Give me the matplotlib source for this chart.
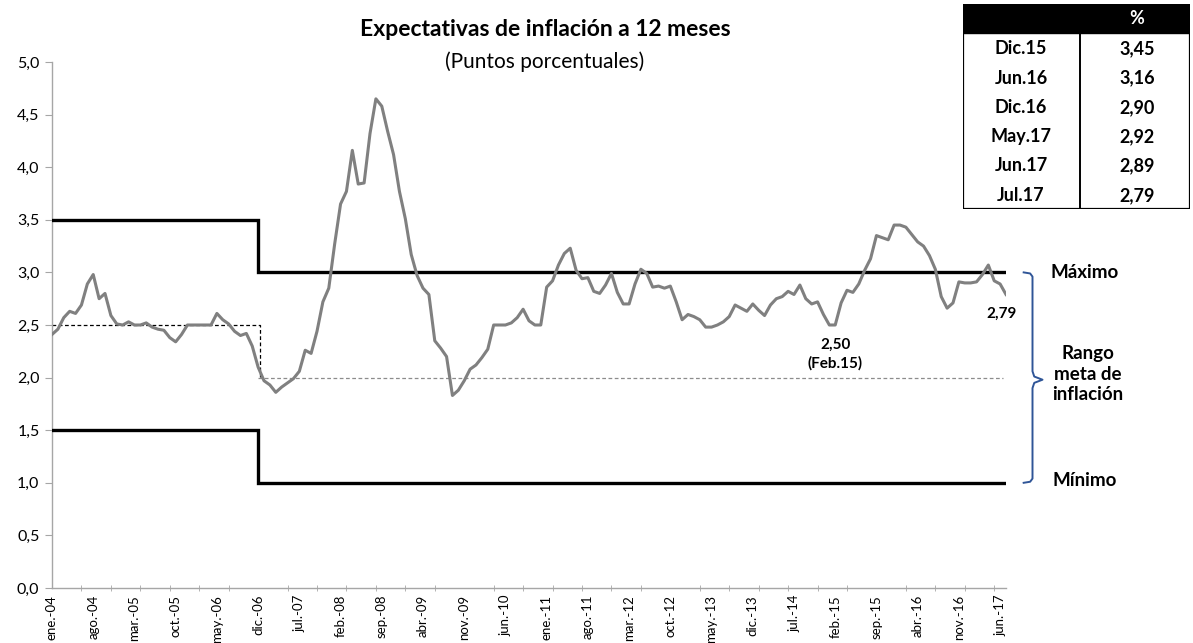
import matplotlib.pyplot as plt
from matplotlib.ticker import FuncFormatter, FixedLocator
from matplotlib.patches import Rectangle
import numpy as np

plt.rcParams['font.family'] = ['Lato', 'DejaVu Sans']

# --- datos: expectativas mensuales, ene.-04 a jul.-17 ---
expectativas = [
    2.41, 2.46, 2.57, 2.63, 2.61, 2.69, 2.89, 2.98, 2.75, 2.80, 2.59, 2.51,  # 2004
    2.50, 2.53, 2.50, 2.50, 2.52, 2.48, 2.46, 2.45, 2.38, 2.34, 2.41, 2.50,  # 2005
    2.50, 2.50, 2.50, 2.50, 2.61, 2.55, 2.51, 2.44, 2.40, 2.42, 2.30, 2.10,  # 2006
    1.97, 1.93, 1.86, 1.91, 1.95, 1.99, 2.06, 2.26, 2.23, 2.44, 2.72, 2.85,  # 2007
    3.27, 3.65, 3.77, 4.16, 3.84, 3.85, 4.32, 4.65, 4.58, 4.34, 4.12, 3.77,  # 2008
    3.51, 3.17, 2.97, 2.85, 2.79, 2.35, 2.28, 2.20, 1.83, 1.88, 1.97, 2.08,  # 2009
    2.12, 2.19, 2.27, 2.50, 2.50, 2.50, 2.52, 2.57, 2.65, 2.54, 2.50, 2.50,  # 2010
    2.86, 2.92, 3.07, 3.18, 3.23, 3.02, 2.94, 2.95, 2.82, 2.80, 2.88, 2.99,  # 2011
    2.81, 2.70, 2.70, 2.89, 3.03, 2.99, 2.86, 2.87, 2.85, 2.87, 2.72, 2.55,  # 2012
    2.60, 2.58, 2.55, 2.48, 2.48, 2.50, 2.53, 2.58, 2.69, 2.66, 2.63, 2.70,  # 2013
    2.64, 2.59, 2.69, 2.75, 2.77, 2.82, 2.79, 2.88, 2.75, 2.70, 2.72, 2.60,  # 2014
    2.50, 2.50, 2.71, 2.83, 2.81, 2.89, 3.02, 3.13, 3.35, 3.33, 3.31, 3.45,  # 2015
    3.45, 3.43, 3.36, 3.29, 3.25, 3.16, 3.03, 2.77, 2.66, 2.71, 2.91, 2.90,  # 2016
    2.90, 2.91, 2.98, 3.07, 2.92, 2.89, 2.79,                                # 2017
]

# rango meta: cambio en dic.-06 (mes 35)
mes_cambio = 35
maximo_antes, maximo_despues = 3.5, 3.0
minimo_antes, minimo_despues = 1.5, 1.0
meta_antes, meta_despues = 2.5, 2.0

etiquetas_x = ['ene.-04', 'ago.-04', 'mar.-05', 'oct.-05', 'may.-06', 'dic.-06',
               'jul.-07', 'feb.-08', 'sep.-08', 'abr.-09', 'nov.-09', 'jun.-10',
               'ene.-11', 'ago.-11', 'mar.-12', 'oct.-12', 'may.-13', 'dic.-13',
               'jul.-14', 'feb.-15', 'sep.-15', 'abr.-16', 'nov.-16', 'jun.-17']

tabla_fechas = ['Dic.15', 'Jun.16', 'Dic.16', 'May.17', 'Jun.17', 'Jul.17']
tabla_valores = ['3,45', '3,16', '2,90', '2,92', '2,89', '2,79']

# --- figura ---
W, H = 1193, 643
fig = plt.figure(figsize=(W / 100, H / 100), dpi=100)
ax = fig.add_axes([52 / W, 1 - 588 / H, (1006 - 52) / W, (588 - 62) / H])

meses = np.arange(len(expectativas))
ultimo = meses[-1]

# lineas del rango meta
ax.plot([0, mes_cambio, mes_cambio, ultimo],
        [maximo_antes, maximo_antes, maximo_despues, maximo_despues],
        color='black', lw=2.4, solid_joinstyle='miter', zorder=3)
ax.plot([0, mes_cambio, mes_cambio, ultimo],
        [minimo_antes, minimo_antes, minimo_despues, minimo_despues],
        color='black', lw=2.4, solid_joinstyle='miter', zorder=3)
ax.plot([0, mes_cambio + 0.4, mes_cambio + 0.4], [meta_antes, meta_antes, meta_despues],
        color='black', lw=0.9, ls=(0, (3, 2)), zorder=2)
ax.plot([mes_cambio, ultimo - 0.5], [meta_despues, meta_despues],
        color='#8c8c8c', lw=0.9, ls=(0, (3, 2)), zorder=2)

# serie
ax.plot(meses, expectativas, color='#808080', lw=2.2, zorder=4)

ax.set_xlim(0, ultimo)
ax.set_ylim(0, 5)

for s in ['top', 'right']:
    ax.spines[s].set_visible(False)
for s in ['left', 'bottom']:
    ax.spines[s].set_color('#a6a6a6')
    ax.spines[s].set_linewidth(1.0)

ax.yaxis.set_major_locator(FixedLocator(np.arange(0, 5.01, 0.5)))
ax.yaxis.set_major_formatter(FuncFormatter(lambda v, _: f'{v:.1f}'.replace('.', ',')))
ax.tick_params(axis='y', length=5, color='#a6a6a6', labelsize=11.5, pad=4)

ax.set_xticks(np.arange(0, len(expectativas), 7))
ax.set_xticklabels(etiquetas_x, rotation=90, fontsize=9.5, va='top', ha='center')
ax.set_xticks(np.arange(0, len(expectativas), 5), minor=True)
ax.tick_params(axis='x', which='major', length=0, pad=5)
ax.tick_params(axis='x', which='minor', length=5, direction='inout', color='#a6a6a6')

# anotaciones
ax.text(133, 2.22, '2,50\n(Feb.15)', ha='center', va='center', fontsize=11,
        fontweight='bold', linespacing=1.35)
ax.text(ultimo - 0.8, 2.61, '2,79', ha='center', va='center', fontsize=11,
        fontweight='bold', clip_on=False)

# llave del rango meta
bx0, bx1, bx2 = 165.0, 166.5, 168.2
ax.plot([bx0, bx1 - 0.4, bx1, bx1, bx1 + 0.3, bx2, bx1 + 0.3, bx1, bx1, bx1 - 0.4, bx0],
        [3.0, 2.99, 2.96, 2.06, 2.01, 1.98, 1.95, 1.90, 1.04, 1.01, 1.0],
        color='#2f5597', lw=1.4, clip_on=False)

fig.text(1085 / W, 1 - 273 / H, 'Máximo', ha='center', va='center', fontsize=13.5,
         fontweight='bold')
fig.text(1088 / W, 1 - 374 / H, 'Rango\nmeta de\ninflación', ha='center', va='center',
         fontsize=13.5, fontweight='bold', linespacing=1.25)
fig.text(1085 / W, 1 - 481 / H, 'Mínimo', ha='center', va='center', fontsize=13.5,
         fontweight='bold')

# titulo
fig.text(545 / W, 1 - 30 / H, 'Expectativas de inflación a 12 meses', ha='center',
         va='center', fontsize=16.5, fontweight='bold')
fig.text(545 / W, 1 - 62 / H, '(Puntos porcentuales)', ha='center', va='center',
         fontsize=15)

# tabla
tx0, tx1, ty0, ty1 = 963, 1190, 4, 209
tab = fig.add_axes([tx0 / W, 1 - ty1 / H, (tx1 - tx0) / W, (ty1 - ty0) / H])
tab.set_xlim(tx0, tx1)
tab.set_ylim(ty1, ty0)
tab.axis('off')
tab.add_patch(Rectangle((tx0, ty0), tx1 - tx0, 33 - ty0, color='black'))
tab.add_patch(Rectangle((tx0, ty0), tx1 - tx0, ty1 - ty0, fill=False, ec='black', lw=1.6))
tab.plot([1080, 1080], [33, ty1], color='black', lw=1.4)
tab.text(1137, 18.5, '%', color='white', ha='center', va='center', fontsize=13,
         fontweight='bold')
alto_fila = (ty1 - 33) / len(tabla_fechas)
for k, (f, v) in enumerate(zip(tabla_fechas, tabla_valores)):
    yc = 33 + alto_fila * (k + 0.5) + 1
    tab.text(1021, yc, f, ha='center', va='center', fontsize=13, fontweight='bold')
    tab.text(1137, yc, v, ha='center', va='center', fontsize=13, fontweight='bold')

fig.savefig('out.png', dpi=100)
